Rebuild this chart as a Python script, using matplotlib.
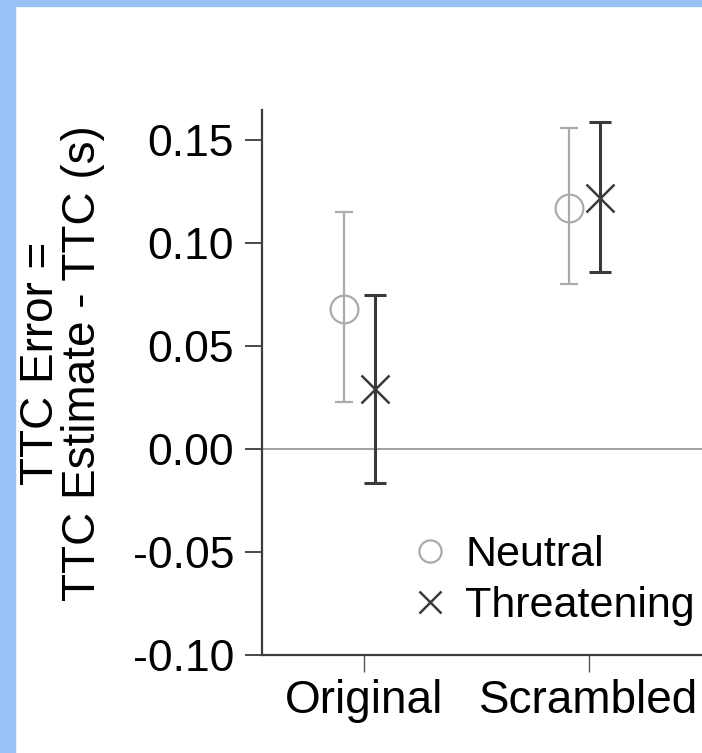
import matplotlib
matplotlib.use('Agg')
import matplotlib.pyplot as plt
from matplotlib.patches import Rectangle

plt.rcParams['font.family'] = ['Liberation Sans', 'DejaVu Sans']

categories = ['Original', 'Scrambled']
groups = ['Neutral', 'Threatening']
neutral_mean = [0.068, 0.117]
neutral_low = [0.023, 0.080]
neutral_high = [0.115, 0.156]
threat_mean = [0.029, 0.122]
threat_low = [-0.0165, 0.086]
threat_high = [0.075, 0.159]
yticks = [-0.10, -0.05, 0.00, 0.05, 0.10, 0.15]

W, H = 702, 753
fig = plt.figure(figsize=(W / 100, H / 100), dpi=100)
fig.patch.set_facecolor('white')

# light blue frame on the left and top of the screenshot
blue = '#9bc2f7'
fig.add_artist(Rectangle((0, 0), 15 / W, 1, transform=fig.transFigure, color=blue, zorder=0))
fig.add_artist(Rectangle((0, 1 - 6 / H), 1, 6 / H, transform=fig.transFigure, color=blue, zorder=0))

# axes run past the right edge (the original picture is cropped)
ax = fig.add_axes([262 / W, 98 / H, 462 / W, 545 / H])
ax.set_xlim(-0.453, 1.6)
ax.set_ylim(-0.10, 0.1646)

x = list(range(len(categories)))
dodge = {'Neutral': -0.087, 'Threatening': 0.05}
styles = {
    'Neutral': dict(color='#ababab', marker='o', elw=1.6, cap=6.5, mew=1.6),
    'Threatening': dict(color='#3a3a3a', marker='x', elw=2.2, cap=8, mew=1.8),
}
series = {
    'Neutral': (neutral_mean, neutral_low, neutral_high),
    'Threatening': (threat_mean, threat_low, threat_high),
}

ax.axhline(0, color='#9a9a9a', lw=1.3, zorder=1)

for g in groups:
    m, lo, hi = series[g]
    s = styles[g]
    xs = [i + dodge[g] for i in x]
    err = [[a - b for a, b in zip(m, lo)], [b - a for a, b in zip(m, hi)]]
    ax.errorbar(xs, m, yerr=err, fmt='none', ecolor=s['color'], elinewidth=s['elw'],
                capsize=s['cap'], capthick=s['elw'], zorder=2)
    ax.plot(xs, m, linestyle='none', marker=s['marker'], markersize=20,
            markerfacecolor='none', markeredgecolor=s['color'],
            markeredgewidth=s['mew'], label=g, zorder=3)

ax.spines['top'].set_visible(False)
ax.spines['right'].set_visible(False)
for sp in ['left', 'bottom']:
    ax.spines[sp].set_color('#3c3c3c')
    ax.spines[sp].set_linewidth(1.6)

ax.set_yticks(yticks)
ax.set_yticklabels(['%.2f' % v for v in yticks])
ax.set_xticks(x)
ax.set_xticklabels(categories)
ax.tick_params(axis='y', direction='out', length=12, width=1.3, color='#3c3c3c',
               labelsize=32, pad=8)
ax.tick_params(axis='x', direction='out', length=12, width=1.0, color='#555555',
               labelsize=33, pad=5)

ax.set_ylabel('TTC Error =\nTTC Estimate - TTC (s)', fontsize=33, linespacing=0.95)
ax.yaxis.set_label_coords(-0.34, 0.536)

ax.legend(loc='upper left', bbox_to_anchor=(406 / W, 1 - 535 / H), bbox_transform=fig.transFigure,
          frameon=False, fontsize=31, handlelength=1.13, handletextpad=0.25,
          labelspacing=0.25, borderaxespad=0, borderpad=0, markerscale=0.8)

plt.savefig('out.png', dpi=100)
